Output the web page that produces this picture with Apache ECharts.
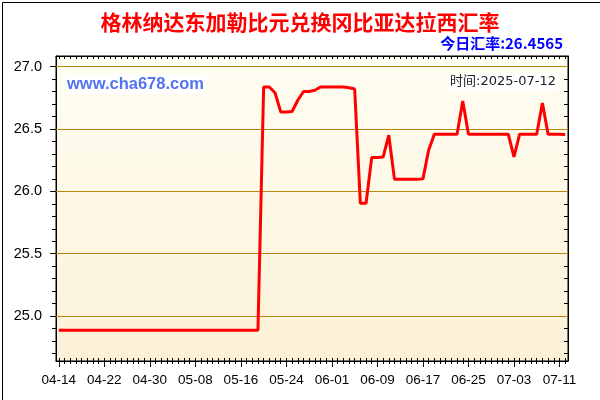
<!DOCTYPE html>
<html>
<head>
<meta charset="utf-8">
<script src="https://cdn.jsdelivr.net/npm/echarts@6/dist/echarts.min.js"></script>
<style>
html,body{margin:0;padding:0;background:#fff;}
#chart{width:600px;height:400px;}
</style>
</head>
<body>
<div id="chart"></div>
<script>
// ---- data ----
var dates = [
 '04-14','04-15','04-16','04-17','04-18','04-19','04-20','04-21','04-22','04-23','04-24','04-25','04-26','04-27','04-28','04-29','04-30',
 '05-01','05-02','05-03','05-04','05-05','05-06','05-07','05-08','05-09','05-10','05-11','05-12','05-13','05-14','05-15','05-16','05-17','05-18','05-19','05-20','05-21','05-22','05-23','05-24','05-25','05-26','05-27','05-28','05-29','05-30','05-31',
 '06-01','06-02','06-03','06-04','06-05','06-06','06-07','06-08','06-09','06-10','06-11','06-12','06-13','06-14','06-15','06-16','06-17','06-18','06-19','06-20','06-21','06-22','06-23','06-24','06-25','06-26','06-27','06-28','06-29','06-30',
 '07-01','07-02','07-03','07-04','07-05','07-06','07-07','07-08','07-09','07-10','07-11','07-12'
];
var rates = [
 24.886,24.886,24.886,24.886,24.886,24.886,24.886,24.886,24.886,24.886,
 24.886,24.886,24.886,24.886,24.886,24.886,24.886,24.886,24.886,24.886,
 24.886,24.886,24.886,24.886,24.886,24.886,24.886,24.886,24.886,24.886,
 24.886,24.886,24.886,24.886,24.886,24.886,
 26.837,26.837,26.79,26.637,26.637,26.64,26.73,26.80,26.80,26.81,
 26.837,26.837,26.837,26.837,26.837,26.83,26.82,25.904,25.904,26.272,
 26.272,26.275,26.45,26.096,26.096,26.096,26.096,26.096,26.10,26.33,
 26.458,26.458,26.458,26.458,26.458,26.725,26.458,26.458,26.458,26.458,
 26.458,26.458,26.458,26.458,26.277,26.458,26.458,26.458,26.458,26.709,
 26.458,26.458,26.458,26.4565
];
var yLabelValues = [25.0, 25.5, 26.0, 26.5, 27.0];
var yMinorTicks = [24.7,24.8,24.9,25.0,25.1,25.2,25.3,25.4,25.5,25.6,25.7,25.8,25.9,26.0,26.1,26.2,26.3,26.4,26.5,26.6,26.7,26.8,26.9,27.0];
var titleText = '格林纳达东加勒比元兑换冈比亚达拉西汇率';
var todayText = '今日汇率:26.4565';
var timeText = '时间:2025-07-12';
var siteText = 'www.cha678.com';

var chart = echarts.init(document.getElementById('chart'));
var black = '#000';
var fontNum = 'Liberation Sans, Arial, sans-serif';
function catAxis(extra){
  var base = {
    type:'category', data: dates, boundaryGap:true, gridIndex:0,
    axisLine:{show:false}, axisLabel:{show:false}, splitLine:{show:false}
  };
  for (var k in extra) base[k] = extra[k];
  return base;
}
var option = {
  animation:false,
  backgroundColor:'#fff',
  grid:{
    left:56, right:32, top:56, bottom:39, show:true,
    borderColor:black, borderWidth:1,
    backgroundColor:{type:'linear',x:0,y:0,x2:0,y2:1,colorStops:[{offset:0,color:'#FFFEF3'},{offset:1,color:'#FCF1D7'}]}
  },
  xAxis:[
    catAxis({position:'bottom',
      axisLine:{show:true,lineStyle:{color:black}},
      axisTick:{show:true,inside:true,length:3,interval:0,alignWithLabel:true,lineStyle:{color:black}},
      axisLabel:{show:true,interval:7,fontSize:13.5,color:black,margin:12,fontFamily:fontNum}}),
    catAxis({position:'bottom',
      axisTick:{show:true,inside:false,length:3,interval:0,alignWithLabel:true,lineStyle:{color:black}}}),
    catAxis({position:'bottom',
      axisTick:{show:true,inside:false,length:6,interval:7,alignWithLabel:true,lineStyle:{color:black}}}),
    catAxis({position:'top',
      axisLine:{show:true,lineStyle:{color:black}},
      axisTick:{show:true,inside:true,length:3,interval:0,alignWithLabel:true,lineStyle:{color:black}}})
  ],
  yAxis:[
    {type:'value', position:'left', min:24.64, max:27.085, scale:true,
      axisLine:{show:true,lineStyle:{color:black}},
      axisTick:{show:true,inside:false,length:4,customValues:yMinorTicks,lineStyle:{color:black}},
      axisLabel:{show:true,customValues:yLabelValues,fontSize:14.5,color:black,margin:14,fontFamily:fontNum,
        formatter:function(v){return Number(v).toFixed(1);}},
      splitLine:{show:false}},
    {type:'value', position:'right', min:24.64, max:27.085, scale:true,
      axisLine:{show:true,lineStyle:{color:black}},
      axisTick:{show:true,inside:true,length:4,customValues:yMinorTicks,lineStyle:{color:black}},
      axisLabel:{show:false}, splitLine:{show:false}},
    {type:'value', position:'left', min:24.64, max:27.085, scale:true,
      axisLine:{show:false},
      axisTick:{show:true,inside:false,length:6,customValues:yLabelValues,lineStyle:{color:black}},
      axisLabel:{show:false}, splitLine:{show:false}}
  ],
  series:[{
    type:'line', xAxisIndex:0, yAxisIndex:0, data:rates,
    showSymbol:false, symbol:'none',
    lineStyle:{color:'#FF0000', width:3},
    itemStyle:{color:'#FF0000'},
    z:5,
    markLine:{
      silent:true, symbol:['none','none'], label:{show:false},
      lineStyle:{color:'#B8860B', width:1, type:'solid'},
      data: yLabelValues.map(function(v){return {yAxis:v};}),
      z:1
    }
  }],
  graphic:[
    {type:'rect', left:0, top:0, shape:{x:0.5,y:0.5,width:599,height:399},
      style:{fill:'none', stroke:'#000', lineWidth:1}, z:100},
    {type:'text', x:300, y:22, style:{text:titleText, fill:'#FF0000', font:'bold 21px "Noto Sans CJK SC", sans-serif', align:'center', verticalAlign:'middle'}, z:100},
    {type:'text', x:563, y:43, style:{text:todayText, fill:'#0000FF', font:'bold 15px "Noto Sans CJK SC", "Liberation Sans", sans-serif', align:'right', verticalAlign:'middle'}, z:100},
    {type:'text', x:66, y:84, style:{text:siteText, fill:'#5273F0', font:'bold 16.5px "Liberation Sans", Arial, sans-serif', align:'left', verticalAlign:'middle', backgroundColor:'#FFFFFF', padding:[1,2,1,1]}, z:100},
    {type:'text', x:557, y:82, style:{text:timeText, fill:'#222', font:'13px "DejaVu Sans", "Noto Sans CJK SC", sans-serif', align:'right', verticalAlign:'middle', backgroundColor:'#FFFFFF', padding:[2,1,2,1]}, z:100}
  ]
};
chart.setOption(option);
</script>
</body>
</html>
